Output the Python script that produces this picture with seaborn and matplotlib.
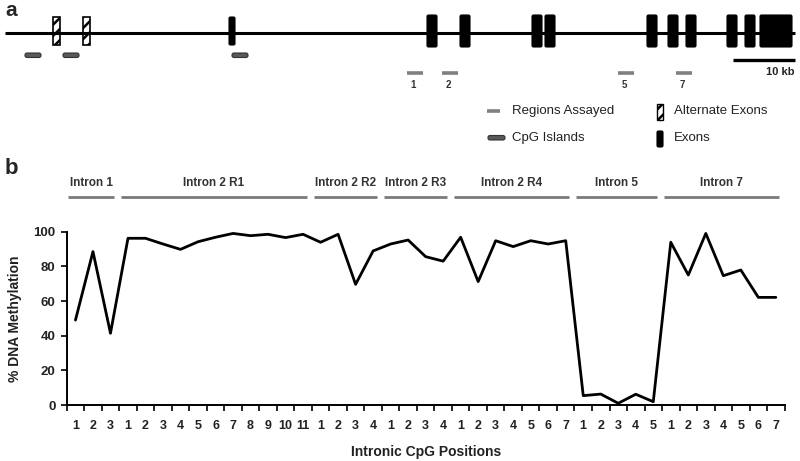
import numpy as np
import pandas as pd
import matplotlib
matplotlib.use("Agg")
import matplotlib.pyplot as plt
import matplotlib.transforms as mtransforms
from matplotlib.patches import Rectangle, FancyBboxPatch
import seaborn as sns

# ---------------- data ----------------
region_names = ["Intron 1", "Intron 2 R1", "Intron 2 R2", "Intron 2 R3",
                "Intron 2 R4", "Intron 5", "Intron 7"]
intron1 = [49.0, 88.5, 41.4]
intron2_r1 = [96.2, 96.2, 92.9, 89.8, 94.2, 96.8, 99.0, 97.7, 98.5, 96.6, 98.5]
intron2_r2 = [93.9, 98.5, 69.6, 88.9]
intron2_r3 = [92.9, 95.2, 85.6, 83.0]
intron2_r4 = [96.8, 71.2, 94.8, 91.4, 94.8, 92.9, 94.8]
intron5 = [5.4, 6.3, 1.0, 6.2, 1.9]
intron7 = [93.9, 75.0, 99.0, 74.6, 77.9, 62.1, 62.1]
y_ticks = [0, 20, 40, 60, 80, 100]

# gene diagram (panel a), horizontal map positions
exon_centers = [232, 432, 465, 537, 550, 652, 673, 691, 732, 750, 776]
exon_widths = [6, 10, 10, 10, 10, 10, 10, 10, 10, 10, 32]
alt_exon_centers = [56, 86]
cpg_island_centers = [33, 71, 240]
assayed_centers = [415, 450, 626, 684]
assayed_labels = ["1", "2", "5", "7"]
legend_labels = ["Regions Assayed", "CpG Islands", "Alternate Exons", "Exons"]

groups = [intron1, intron2_r1, intron2_r2, intron2_r3, intron2_r4, intron5, intron7]
rows = []
pos = 0
for name, vals in zip(region_names, groups):
    for i, v in enumerate(vals):
        rows.append({"pos": pos, "region": name, "cpg": str(i + 1), "meth": v})
        pos += 1
df = pd.DataFrame(rows)
n = len(df)

# ---------------- figure ----------------
sns.set_style("ticks")
plt.rcParams["font.family"] = ["Liberation Sans", "DejaVu Sans"]
plt.rcParams["hatch.linewidth"] = 1.8

fig = plt.figure(figsize=(8.0, 4.61), dpi=100)

# panel a drawing canvas (pixel-like coordinates)
axa = fig.add_axes([0, 0, 1, 1], zorder=-1)
axa.set_xlim(0, 800)
axa.set_ylim(461, 0)
axa.axis("off")

axa.plot([5, 795], [33, 33], color="black", lw=2.2, solid_capstyle="butt")
for c, w in zip(exon_centers, exon_widths):
    h0, h1 = (17, 45) if w < 8 else (15, 47)
    axa.add_patch(FancyBboxPatch((c - w / 2, h0), w, h1 - h0,
                                 boxstyle="round,pad=0,rounding_size=1.5",
                                 facecolor="black", edgecolor="black", lw=0.8))
for c in alt_exon_centers:
    axa.add_patch(Rectangle((c - 3.5, 17), 7, 28, facecolor="white",
                            edgecolor="black", hatch="///", lw=1.2))
for c in cpg_island_centers:
    axa.add_patch(FancyBboxPatch((c - 8, 53), 16, 4.5,
                                 boxstyle="round,pad=0,rounding_size=2",
                                 facecolor="#5a5a5a", edgecolor="#333333", lw=0.8))
for c, lab in zip(assayed_centers, assayed_labels):
    axa.plot([c - 8, c + 8], [73, 73], color="#808080", lw=2.6,
             solid_capstyle="butt")
    axa.text(c - 2, 85, lab, ha="center", va="center", fontsize=7,
             fontweight="bold", color="#333333")
# scale bar
axa.plot([733, 795], [60, 60], color="black", lw=2.4, solid_capstyle="butt")
axa.text(795, 72, "10 kb", ha="right", va="center", fontsize=8,
         fontweight="bold", color="#222222")

# legend
axa.plot([487, 500], [111, 111], color="#808080", lw=2.6, solid_capstyle="butt")
axa.text(512, 111, legend_labels[0], ha="left", va="center", fontsize=9.5,
         color="#222222")
axa.add_patch(FancyBboxPatch((488, 135.5), 17, 4.5,
                             boxstyle="round,pad=0,rounding_size=2",
                             facecolor="#5a5a5a", edgecolor="#333333", lw=0.8))
axa.text(512, 138, legend_labels[1], ha="left", va="center", fontsize=9.5,
         color="#222222")
axa.add_patch(Rectangle((657, 104), 6, 16, facecolor="white",
                        edgecolor="black", hatch="///", lw=1.0))
axa.text(674, 111, legend_labels[2], ha="left", va="center", fontsize=9.5,
         color="#222222")
axa.add_patch(FancyBboxPatch((657, 131), 6, 16,
                             boxstyle="round,pad=0,rounding_size=1.5",
                             facecolor="black", edgecolor="black", lw=0.8))
axa.text(674, 138, legend_labels[3], ha="left", va="center", fontsize=9.5,
         color="#222222")

# panel letters
fig.text(5 / 800, 1 - 11 / 461, "a", fontsize=15, fontweight="bold",
         ha="left", va="center")
fig.text(5 / 800, 1 - 169 / 461, "b", fontsize=16, fontweight="bold",
         ha="left", va="center")

# ---------------- panel b ----------------
ax = fig.add_axes([66.7 / 800, 56 / 461, (784.6 - 66.7) / 800, (405 - 231.7) / 461])
sns.lineplot(data=df, x="pos", y="meth", ax=ax, color="black", lw=2.0,
             clip_on=False)
ax.set_xlim(-0.5, n - 0.5)
ax.set_ylim(0, 100)
ax.set_yticks(y_ticks)
ax.set_yticklabels([str(t) for t in y_ticks], fontsize=9.5, fontweight="bold",
                   color="#222222")
ax.set_xticks(df["pos"])
ax.set_xticklabels(df["cpg"], fontsize=9, fontweight="bold", color="#222222")
ax.set_xticks(np.arange(-0.5, n, 1.0), minor=True)
ax.tick_params(axis="x", which="major", length=0, pad=11)
ax.tick_params(axis="x", which="minor", length=4, width=1.2, color="black")
ax.tick_params(axis="y", which="major", length=4, width=1.2, pad=4, color="black")
ax.set_xlabel("Intronic CpG Positions", fontsize=10, fontweight="bold",
              color="#222222", labelpad=9)
ax.set_ylabel("% DNA Methylation", fontsize=10, fontweight="bold",
              color="#222222", labelpad=8)
sns.despine(ax=ax)
for s in ["left", "bottom"]:
    ax.spines[s].set_linewidth(1.4)
    ax.spines[s].set_color("black")

# region headers
trans = mtransforms.blended_transform_factory(ax.transData, ax.transAxes)
start = 0
for name, vals in zip(region_names, groups):
    end = start + len(vals) - 1
    x0 = start - 0.4
    x1 = min(end + 0.2, n - 0.25)
    ax.plot([x0, x1], [1.2, 1.2], transform=trans, color="#7a7a7a", lw=2.0,
            clip_on=False, solid_capstyle="butt")
    ax.text((x0 + x1) / 2, 1.28, name, transform=trans, ha="center",
            va="center", fontsize=8.5, fontweight="bold", color="#333333")
    start = end + 1

fig.savefig("out.png", dpi=100)
